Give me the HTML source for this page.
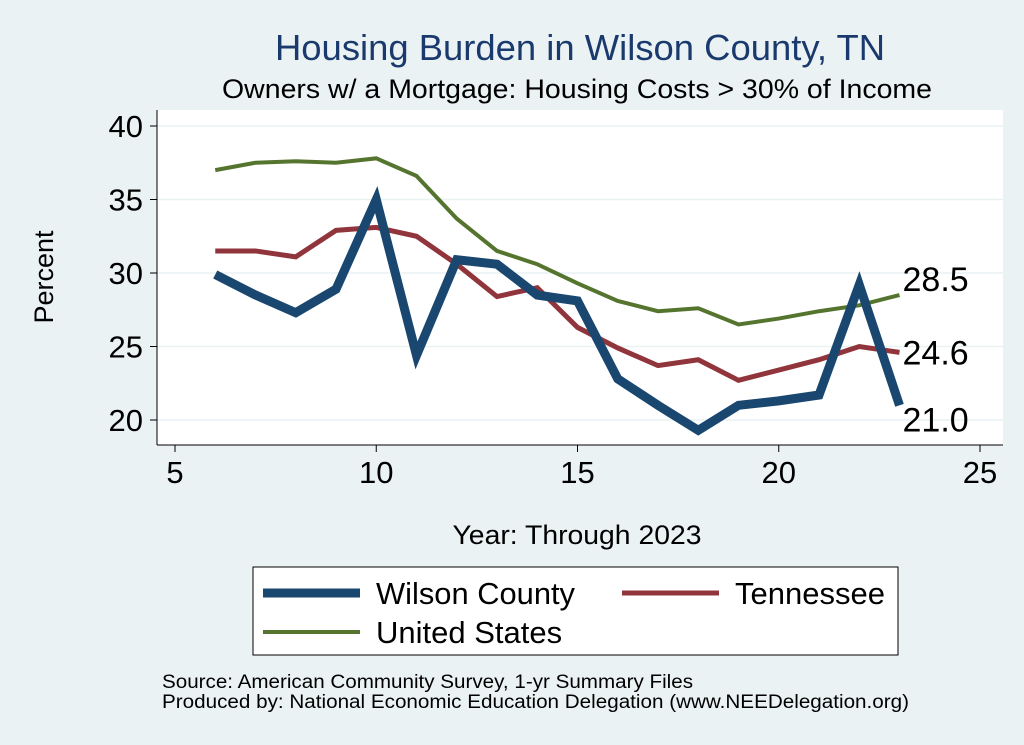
<!DOCTYPE html>
<html><head><meta charset="utf-8"><style>
body{margin:0;background:#eaf2f3;}
svg{display:block;font-family:"Liberation Sans",sans-serif;}
</style></head><body>
<svg id="chart" width="1024" height="745">
<rect x="0" y="0" width="1024" height="745" fill="#eaf2f3"/>
<text x="580" y="60" text-anchor="middle" font-size="36" fill="#1a3a6e" textLength="610" lengthAdjust="spacingAndGlyphs">Housing Burden in Wilson County, TN</text>
<text x="577" y="98" text-anchor="middle" font-size="27" fill="#000" textLength="710" lengthAdjust="spacingAndGlyphs">Owners w/ a Mortgage: Housing Costs &gt; 30% of Income</text>
<rect x="157" y="110" width="846" height="335" fill="#fff"/>
<g id="grid"></g>
<g id="axes"></g>
<g id="series"></g>
<text x="53" y="277" text-anchor="middle" font-size="27" transform="rotate(-90 53 277)">Percent</text>
<text x="577" y="544" text-anchor="middle" font-size="27" textLength="249" lengthAdjust="spacingAndGlyphs">Year: Through 2023</text>
<g>
<rect x="253" y="567" width="645" height="88" fill="#fff" stroke="#000" stroke-width="1"/>
<line x1="263" y1="593" x2="360" y2="593" stroke="#1a476f" stroke-width="9"/>
<text x="376" y="604" font-size="31" textLength="199" lengthAdjust="spacingAndGlyphs">Wilson County</text>
<line x1="622" y1="593" x2="719" y2="593" stroke="#90353b" stroke-width="5"/>
<text x="735" y="604" font-size="31">Tennessee</text>
<line x1="263" y1="632" x2="360" y2="632" stroke="#55752f" stroke-width="4"/>
<text x="376" y="643" font-size="31">United States</text>
</g>
<text x="162" y="688" font-size="19" textLength="531" lengthAdjust="spacingAndGlyphs">Source: American Community Survey, 1-yr Summary Files</text>
<text x="162" y="708" font-size="19" textLength="747" lengthAdjust="spacingAndGlyphs">Produced by: National Economic Education Delegation (www.NEEDelegation.org)</text>
</svg>
<script>
const years=[6,7,8,9,10,11,12,13,14,15,16,17,18,19,20,21,22,23];
const wilson=[29.9,28.5,27.3,28.9,35.0,24.4,30.9,30.6,28.5,28.1,22.8,21.0,19.3,21.0,21.3,21.7,29.2,21.0];
const tennessee=[31.5,31.5,31.1,32.9,33.1,32.5,30.6,28.4,29.0,26.3,24.9,23.7,24.1,22.7,23.4,24.1,25.0,24.6];
const unitedStates=[37.0,37.5,37.6,37.5,37.8,36.6,33.7,31.5,30.6,29.3,28.1,27.4,27.6,26.5,26.9,27.4,27.8,28.5];
const xTicks=[5,10,15,20,25];
const yTicks=[20,25,30,35,40];
const NS="http://www.w3.org/2000/svg";
function xs(v){return 175+(v-5)*40.25;}
function ys(v){return 420-(v-20)*14.7;}
function mk(tag,attrs,parent){const e=document.createElementNS(NS,tag);for(const k in attrs)e.setAttribute(k,attrs[k]);document.getElementById(parent).appendChild(e);return e;}
yTicks.forEach(t=>{
 const g=mk('line',{x1:157,x2:1003,y1:ys(t),y2:ys(t),stroke:'#eaf2f3','stroke-width':1.5},'grid');
 
 
 const tk=mk('line',{x1:150,x2:157,y1:ys(t),y2:ys(t),stroke:'#000'},'axes');
 
 
 const l=mk('text',{x:143,y:ys(t)+11,'text-anchor':'end','font-size':31},'axes');
 l.textContent=t;
 
 
});
xTicks.forEach(t=>{
 const tk=mk('line',{x1:xs(t),x2:xs(t),y1:445,y2:452,stroke:'#000'},'axes');
 
 
 const l=mk('text',{x:xs(t),y:483,'text-anchor':'middle','font-size':31},'axes');
 l.textContent=t;
 
 
});
const ya=mk('line',{x1:157,x2:157,y1:110,y2:445,stroke:'#000'},'axes');


const xa=mk('line',{x1:157,x2:1003,y1:445,y2:445,stroke:'#000'},'axes');


function line(vals,color,w,name){
 const p=mk('polyline',{points:vals.map((v,i)=>xs(years[i])+','+ys(v)).join(' '),fill:'none',stroke:color,'stroke-width':w,'stroke-linejoin':'miter'},'series');
 
 
}
line(unitedStates,'#55752f',4,'us-line');
line(tennessee,'#90353b',5,'tennessee-line');
line(wilson,'#1a476f',9,'wilson-line');
const n=years.length-1;
[[unitedStates,'us-end-label',-4],[tennessee,'tennessee-end-label',12],[wilson,'wilson-end-label',26]].forEach(([arr,nm,dy])=>{
 const t=mk('text',{x:xs(years[n])+3,y:ys(arr[n])+dy,'font-size':34},'series');
 t.textContent=arr[n].toFixed(1);
 
 
});
</script>
</body></html>
